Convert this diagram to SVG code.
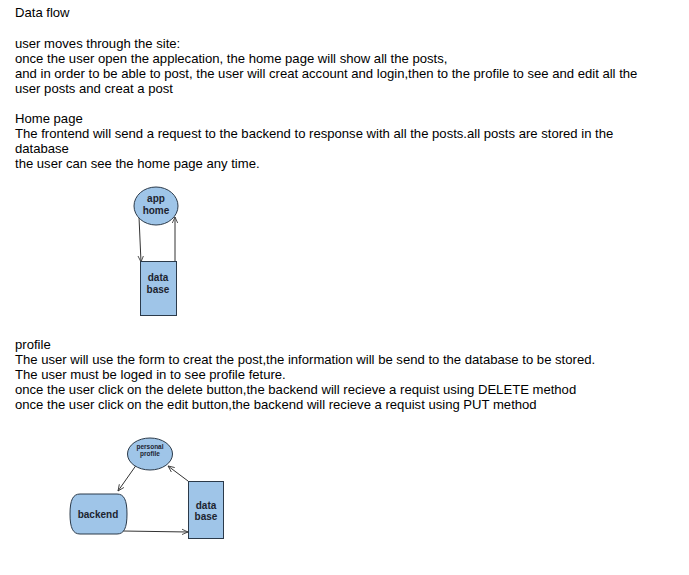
<svg xmlns="http://www.w3.org/2000/svg" width="689" height="575" viewBox="0 0 689 575">
<defs>
<style>
.t{font-family:"Liberation Sans",Arial,sans-serif;font-size:13.1px;fill:#000}
.n{fill:#9fc5e8;stroke:#2b3a4a;stroke-width:1}
.l{font-family:"Liberation Sans",Arial,sans-serif;font-weight:bold;fill:#1c2430;text-anchor:middle}
.c{stroke:#333;stroke-width:1;fill:none;marker-end:url(#ah)}
</style>
<marker id="ah" viewBox="0 0 10 10" refX="9" refY="5" markerWidth="7" markerHeight="7" orient="auto" markerUnits="userSpaceOnUse">
<path d="M0,1 L9,5 L0,9" fill="none" stroke="#333" stroke-width="1.2"/>
</marker>
</defs>
<rect width="689" height="575" fill="#fff"/>
<g id="text">
<text class="t" x="15" y="17">Data flow</text>
<text class="t" x="15" y="48">user moves through the site:</text>
<text class="t" x="15" y="63">once the user open the applecation, the home page will show all the posts,</text>
<text class="t" x="15" y="78">and in order to be able to post, the user will creat account and login,then to the profile to see and edit all the</text>
<text class="t" x="15" y="93">user posts and creat a post</text>
<text class="t" x="15" y="123">Home page</text>
<text class="t" x="15" y="138">The frontend will send a request to the backend to response with all the posts.all posts are stored in the</text>
<text class="t" x="15" y="153">database</text>
<text class="t" x="15" y="168">the user can see the home page any time.</text>
<text class="t" x="15" y="349">profile</text>
<text class="t" x="15" y="364">The user will use the form to creat the post,the information will be send to the database to be stored.</text>
<text class="t" x="15" y="379">The user must be loged in to see profile feture.</text>
<text class="t" x="15" y="394">once the user click on the delete button,the backend will recieve a requist using DELETE method</text>
<text class="t" x="15" y="409">once the user click on the edit button,the backend will recieve a requist using PUT method</text>
</g>
<g id="connectors">
<line class="c" x1="139" y1="217" x2="141" y2="262"/>
<line class="c" x1="175" y1="261" x2="175" y2="217"/>
<line class="c" x1="137" y1="464" x2="118" y2="491"/>
<line class="c" x1="188" y1="481" x2="168" y2="466"/>
<line class="c" x1="123" y1="531" x2="188" y2="532"/>
</g>
<g id="app-home">
<ellipse class="n" cx="156" cy="206" rx="22" ry="19"/>
<text class="l" x="156" y="202" font-size="10">app</text>
<text class="l" x="156" y="214" font-size="10">home</text>
</g>
<g id="data-base-1">
<rect class="n" x="140.5" y="261.5" width="36" height="54"/>
<text class="l" x="158" y="281" font-size="10">data</text>
<text class="l" x="158" y="293" font-size="10">base</text>
</g>
<g id="personal-profile">
<ellipse class="n" cx="150" cy="454" rx="22.5" ry="16"/>
<text class="l" x="150" y="449" font-size="6.5">personal</text>
<text class="l" x="150" y="456" font-size="6.5">profile</text>
</g>
<g id="backend">
<path class="n" d="M80,494 H117 C124,494 127,500 127,514 C127,528 124,534 117,534 H80 C73,534 70,528 70,514 C70,500 73,494 80,494 Z"/>
<text class="l" x="98" y="518" font-size="10">backend</text>
</g>
<g id="data-base-2">
<rect class="n" x="188.5" y="481.5" width="35" height="57"/>
<text class="l" x="206" y="509" font-size="10">data</text>
<text class="l" x="206" y="520" font-size="10">base</text>
</g>
</svg>
